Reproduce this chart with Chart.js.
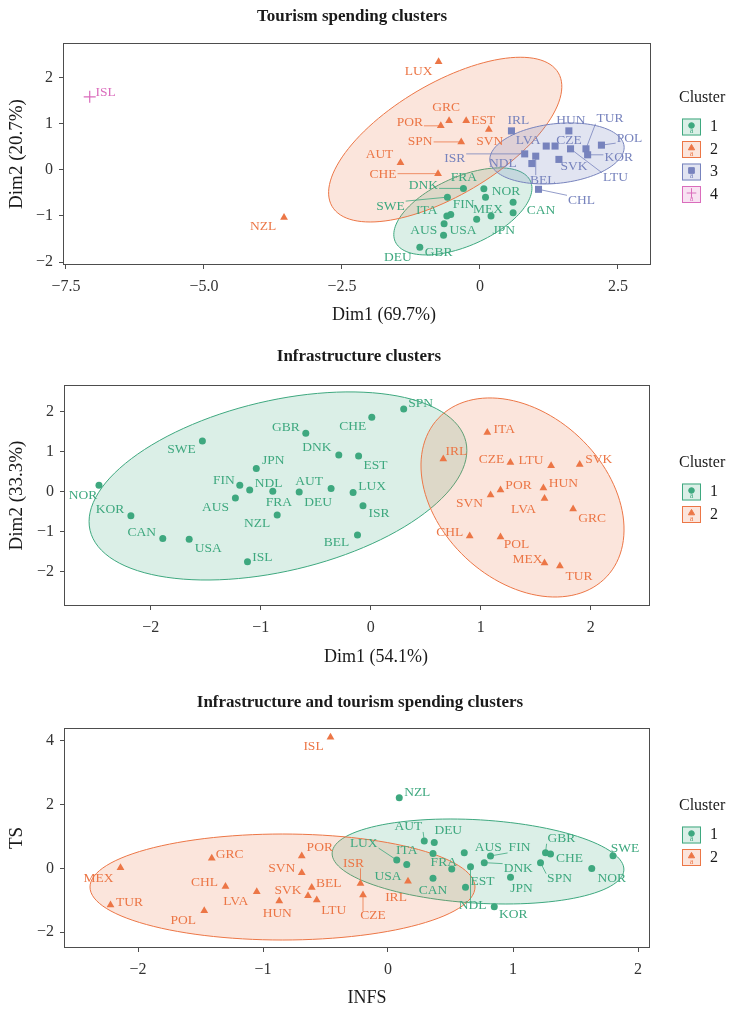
<!DOCTYPE html>
<html>
<head>
<meta charset="utf-8">
<script src="https://cdn.jsdelivr.net/npm/chart.js@4.4.1/dist/chart.umd.min.js"></script>
<style>
  html, body { margin: 0; padding: 0; background: #fff; }
  #wrap { position: relative; width: 733px; height: 1010px; overflow: hidden; }
  canvas { position: absolute; left: 0; }
</style>
</head>
<body>
<div id="wrap">
  <canvas id="ts" width="733" height="335" style="top:0px"></canvas>
  <canvas id="inf" width="733" height="340" style="top:335px"></canvas>
  <canvas id="both" width="733" height="335" style="top:675px"></canvas>
</div>
<script>
// ---- panel 1: tourism spending (PCA) ----
const tsCountries = ['ISL', 'NZL', 'LUX', 'GRC', 'POR', 'EST', 'SVN', 'SPN', 'AUT', 'CHE',
  'IRL', 'HUN', 'LVA', 'CZE', 'ISR', 'BEL', 'NDL', 'SVK', 'LTU', 'TUR', 'KOR', 'POL', 'CHL',
  'DNK', 'FRA', 'NOR', 'FIN', 'MEX', 'CAN', 'JPN', 'SWE', 'ITA', 'AUS', 'USA', 'GBR', 'DEU'];
const tsDim1 = [-7.07, -3.55, -0.75, -0.56, -0.71, -0.25, 0.16, -0.34, -1.44, -0.76,
  0.57, 1.61, 1.20, 1.36, 0.81, 1.01, 0.94, 1.43, 1.64, 1.92, 1.95, 2.20, 1.06,
  -0.30, 0.07, 0.60, 0.10, 0.20, 0.60, -0.06, -0.59, -0.53, -0.60, -0.65, -0.66, -1.09];
const tsDim2 = [1.59, -1.03, 2.35, 1.07, 0.96, 1.07, 0.88, 0.61, 0.16, -0.08,
  0.85, 0.85, 0.52, 0.52, 0.35, 0.30, 0.14, 0.23, 0.46, 0.46, 0.33, 0.54, -0.42,
  -0.40, -0.41, -0.70, -0.59, -1.00, -0.93, -1.07, -0.59, -0.97, -1.00, -1.17, -1.42, -1.68];
const tsCluster = [4, 2, 2, 2, 2, 2, 2, 2, 2, 2,
  3, 3, 3, 3, 3, 3, 3, 3, 3, 3, 3, 3, 3,
  1, 1, 1, 1, 1, 1, 1, 1, 1, 1, 1, 1, 1];
const tsXTicks = [-7.5, -5, -2.5, 0, 2.5];
const tsXTickText = ['\u22127.5', '\u22125.0', '\u22122.5', '0', '2.5'];
const tsYTicks = [-2, -1, 0, 1, 2];
// ellipse = centre, end of one semi-axis, end of the conjugate semi-axis (data units)
const tsEllipses = [
  {cluster: 1, center: [-0.31, -0.90], major: [0.915, -0.243], minor: [-0.054, -1.581]},
  {cluster: 2, center: [-0.63, 0.66], major: [1.42, 2.11], minor: [-0.12, -0.39]},
  {cluster: 3, center: [1.395, 0.359], major: [2.61, 0.52], minor: [1.455, -0.285]}
];

// ---- panel 2: infrastructure (PCA) ----
const infCountries = ['NOR', 'KOR', 'CAN', 'USA', 'SWE', 'ISL', 'FIN', 'AUS', 'JPN', 'NDL', 'FRA',
  'NZL', 'GBR', 'DNK', 'AUT', 'DEU', 'EST', 'LUX', 'ISR', 'BEL', 'CHE', 'SPN',
  'IRL', 'ITA', 'CZE', 'LTU', 'SVK', 'POR', 'SVN', 'HUN', 'LVA', 'GRC', 'CHL', 'POL', 'MEX', 'TUR'];
const infDim1 = [-2.47, -2.18, -1.89, -1.65, -1.53, -1.12, -1.19, -1.23, -1.04, -1.10, -0.89,
  -0.85, -0.59, -0.29, -0.36, -0.65, -0.11, -0.16, -0.07, -0.12, 0.01, 0.30,
  0.66, 1.06, 1.27, 1.64, 1.90, 1.18, 1.09, 1.57, 1.58, 1.84, 0.90, 1.18, 1.58, 1.72];
const infDim2 = [0.16, -0.60, -1.17, -1.19, 1.27, -1.75, 0.16, -0.16, 0.58, 0.04, 0.01,
  -0.58, 1.46, 0.92, 0.08, -0.01, 0.89, -0.02, -0.35, -1.08, 1.86, 2.07,
  0.82, 1.48, 0.73, 0.65, 0.68, 0.04, -0.08, 0.09, -0.17, -0.43, -1.11, -1.13, -1.78, -1.86];
const infCluster = [1, 1, 1, 1, 1, 1, 1, 1, 1, 1, 1, 1, 1, 1, 1, 1, 1, 1, 1, 1, 1, 1,
  2, 2, 2, 2, 2, 2, 2, 2, 2, 2, 2, 2, 2, 2];
const infXTicks = [-2, -1, 0, 1, 2];
const infYTicks = [-2, -1, 0, 1, 2];
const infEllipses = [
  {cluster: 1, center: [-0.843, 0.143], major: [0.865, 1.253], minor: [-0.666, -1.93]},
  {cluster: 2, center: [1.38, -0.145], major: [2.146, -2.123], minor: [0.865, -1.655]}
];

// ---- panel 3: infrastructure score vs tourism score ----
const bothCountries = ['ISL', 'MEX', 'TUR', 'GRC', 'CHL', 'POL', 'LVA', 'HUN', 'POR', 'SVN', 'SVK',
  'BEL', 'LTU', 'ISR', 'CZE', 'IRL',
  'NZL', 'AUT', 'DEU', 'LUX', 'ITA', 'FRA', 'CAN', 'USA', 'EST', 'NDL', 'AUS', 'FIN', 'DNK',
  'JPN', 'KOR', 'GBR', 'CHE', 'SPN', 'NOR', 'SWE'];
const bothINFS = [-0.46, -2.14, -2.22, -1.41, -1.30, -1.47, -1.05, -0.87, -0.69, -0.69, -0.64,
  -0.61, -0.57, -0.22, -0.20, 0.16,
  0.09, 0.29, 0.37, 0.07, 0.15, 0.51, 0.36, 0.36, 0.62, 0.66, 0.61, 0.82, 0.77,
  0.98, 0.85, 1.26, 1.30, 1.22, 1.63, 1.80];
const bothTS = [4.11, 0.02, -1.15, 0.32, -0.57, -1.33, -0.73, -1.02, 0.39, -0.14, -0.86,
  -0.60, -0.99, -0.47, -0.83, -0.40,
  2.21, 0.86, 0.81, 0.26, 0.12, -0.02, -0.31, 0.47, -0.59, 0.05, 0.49, 0.39, 0.18,
  -0.28, -1.20, 0.49, 0.45, 0.18, 0.00, 0.40];
const bothCluster = [2, 2, 2, 2, 2, 2, 2, 2, 2, 2, 2, 2, 2, 2, 2, 2,
  1, 1, 1, 1, 1, 1, 1, 1, 1, 1, 1, 1, 1, 1, 1, 1, 1, 1, 1, 1];
const bothXTicks = [-2, -1, 0, 1, 2];
const bothYTicks = [-2, 0, 2, 4];
const bothEllipses = [
  {cluster: 1, center: [0.72, 0.216], major: [1.887, -0.056], minor: [0.70, -1.087]},
  {cluster: 2, center: [-0.844, -0.583], major: [0.696, -0.583], minor: [-0.844, -2.243]}
];

// label placement (pixel offset from the point, 1 = draw a leader line)
const tsLabelPos = {
  ISL: [16, -4], NZL: [-21, 9], LUX: [-20, 10], GRC: [-3, -13], POR: [-31, -3, 1], EST: [17, 0],
  SVN: [1, 12], SPN: [-41, 0, 1], AUT: [-21, -8], CHE: [-55, 1, 1], IRL: [7, -10], HUN: [2, -10],
  LVA: [-18, -6], CZE: [14, -6], ISR: [-70, 5, 1], BEL: [7, 24, 1], NDL: [-29, 0], SVK: [15, 7],
  LTU: [45, 29, 1], TUR: [24, -30, 1], KOR: [31, 3, 1], POL: [28, -7, 1], CHL: [43, 11, 1],
  DNK: [-40, -3, 1], FRA: [-20, -11], NOR: [-7, -11], FIN: [-22, 7], MEX: [-3, -7], CAN: [28, -2],
  JPN: [27, 11], SWE: [-57, 9, 1], ITA: [-24, -4], AUS: [-23, 14], USA: [19, 7], GBR: [-5, 17],
  DEU: [-22, 10]
};
const infLabelPos = {
  NOR: [-16, 10], KOR: [-21, -6], CAN: [-21, -6], USA: [19, 9], SWE: [-21, 9], ISL: [15, -4],
  FIN: [-16, -5], AUS: [-20, 9], JPN: [17, -8], NDL: [19, -7], FRA: [6, 11], NZL: [-20, 9],
  GBR: [-20, -6], DNK: [-22, -7], AUT: [-22, -7], DEU: [19, 10], EST: [17, 9], LUX: [19, -6],
  ISR: [16, 8], BEL: [-21, 8], CHE: [-19, 9], SPN: [17, -5], IRL: [13, -7], ITA: [17, -3],
  CZE: [-19, -3], LTU: [-20, -5], SVK: [19, -5], POR: [18, -5], SVN: [-21, 9], HUN: [20, -5],
  LVA: [-21, 11], GRC: [19, 10], CHL: [-20, -4], POL: [16, 8], MEX: [-17, -3], TUR: [19, 10]
};
const bothLabelPos = {
  ISL: [-17, 9], MEX: [-22, 11], TUR: [19, -3], GRC: [18, -4], CHL: [-21, -4], POL: [-21, 10],
  LVA: [-21, 10], HUN: [-2, 12], POR: [18, -8], SVN: [-20, -4], SVK: [-20, -5], BEL: [17, -4],
  LTU: [17, 10], ISR: [-7, -20, 1], CZE: [10, 21, 1], IRL: [-12, 16],
  NZL: [18, -5], AUT: [-16, -14, 1], DEU: [14, -12], LUX: [-33, -17, 1], ITA: [0, -14],
  FRA: [-8, -7], CAN: [0, 12], USA: [-45, 23], EST: [17, -6], NDL: [2, 39, 1], AUS: [24, -5],
  FIN: [29, -8, 1], DNK: [34, 6, 1], JPN: [11, 11], KOR: [19, 8], GBR: [16, -14, 1], CHE: [19, 4],
  SPN: [19, 16, 1], NOR: [20, 10], SWE: [12, -7]
};

const colors = ['#3ea87f', '#ec7646', '#7783bd', '#da6cbc'];
const fills = ['rgba(62,168,127,0.19)', 'rgba(236,118,70,0.19)', 'rgba(119,131,189,0.22)', 'rgba(218,108,188,0.2)'];
const shapes = ['circle', 'triangle', 'rect', 'cross'];
const radii = [3.5, 4.5, 5, 6];
const serif = '"Liberation Serif", "DejaVu Serif", serif';
const ink = '#1a1a1a';

const fmt = v => (v < 0 ? '\u2212' + Math.abs(v) : String(v));

const decor = {
  id: 'decor',
  beforeDatasetsDraw(chart, args, o) {
    const {ctx, chartArea: a, scales: {x, y}} = chart;
    ctx.save();
    ctx.beginPath();
    ctx.rect(a.left, a.top, a.right - a.left, a.bottom - a.top);
    ctx.clip();
    o.ellipses.forEach(e => {
      const cx = x.getPixelForValue(e.center[0]), cy = y.getPixelForValue(e.center[1]);
      const ux = x.getPixelForValue(e.major[0]) - cx, uy = y.getPixelForValue(e.major[1]) - cy;
      const vx = x.getPixelForValue(e.minor[0]) - cx, vy = y.getPixelForValue(e.minor[1]) - cy;
      ctx.beginPath();
      for (let i = 0; i <= 120; i++) {
        const t = i / 120 * Math.PI * 2;
        const px = cx + ux * Math.cos(t) + vx * Math.sin(t);
        const py = cy + uy * Math.cos(t) + vy * Math.sin(t);
        if (i) ctx.lineTo(px, py); else ctx.moveTo(px, py);
      }
      ctx.closePath();
      ctx.fillStyle = fills[e.cluster - 1];
      ctx.fill();
      ctx.strokeStyle = colors[e.cluster - 1];
      ctx.lineWidth = 1;
      ctx.stroke();
    });
    ctx.restore();
  },
  afterDatasetsDraw(chart, args, o) {
    const {ctx, chartArea: a} = chart;
    ctx.save();
    ctx.font = '13.5px ' + serif;
    ctx.textAlign = 'center';
    ctx.textBaseline = 'middle';
    chart.data.datasets.forEach((ds, di) => {
      const col = colors[ds.cluster - 1];
      chart.getDatasetMeta(di).data.forEach((pt, j) => {
        const name = ds.data[j].name;
        const off = o.offsets[name] || [14, -8];
        const lx = pt.x + off[0], ly = pt.y + off[1];
        if (off[2]) {
          const w = ctx.measureText(name).width / 2 + 1, h = 5;
          const ex = Math.max(lx - w, Math.min(pt.x, lx + w));
          const ey = Math.max(ly - h, Math.min(pt.y, ly + h));
          ctx.strokeStyle = col;
          ctx.lineWidth = 0.8;
          ctx.beginPath();
          ctx.moveTo(pt.x, pt.y);
          ctx.lineTo(ex, ey);
          ctx.stroke();
        }
        ctx.fillStyle = col;
        ctx.fillText(name, lx, ly);
      });
    });

    // panel border
    ctx.strokeStyle = '#4d4d4d';
    ctx.lineWidth = 1;
    ctx.strokeRect(a.left + 0.5, a.top + 0.5, a.right - a.left - 1, a.bottom - a.top - 1);

    // titles
    ctx.fillStyle = ink;
    ctx.font = 'bold 17px ' + serif;
    ctx.fillText(o.title, o.titleX, o.titleY);
    ctx.font = '18px ' + serif;
    ctx.fillText(o.xTitle, o.xTitleX, o.xTitleY);

    // legend
    ctx.textAlign = 'left';
    ctx.font = '16px ' + serif;
    ctx.fillText('Cluster', 679, o.legendY);
    chart.data.datasets.forEach((ds, i) => {
      const k = ds.cluster;
      const cy = o.legendY + 29 + i * 22.5;
      ctx.fillStyle = fills[k - 1];
      ctx.fillRect(682, cy - 8.5, 19, 17);
      ctx.strokeStyle = colors[k - 1];
      ctx.lineWidth = 1;
      ctx.strokeRect(682.5, cy - 8, 18, 16);
      ctx.fillStyle = colors[k - 1];
      Chart.helpers.drawPoint(ctx, {pointStyle: shapes[k - 1], radius: radii[k - 1] * 0.8, rotation: 0, borderWidth: 1}, 691.5, cy - 1.5);
      ctx.font = '8px ' + serif;
      ctx.textAlign = 'center';
      ctx.fillText('a', 691.5, cy + 4);
      ctx.textAlign = 'left';
      ctx.fillStyle = ink;
      ctx.font = '16px ' + serif;
      ctx.fillText(String(k), 710, cy);
    });
    ctx.restore();
  }
};

function buildDatasets(names, xs, ys, cl) {
  const ks = [...new Set(cl)].sort();
  return ks.map(k => {
    const idx = cl.map((c, i) => (c === k ? i : -1)).filter(i => i >= 0);
    return {
      label: String(k),
      cluster: k,
      data: idx.map(i => ({x: xs[i], y: ys[i], name: names[i]})),
      pointStyle: shapes[k - 1],
      pointRadius: radii[k - 1],
      backgroundColor: colors[k - 1],
      borderColor: colors[k - 1],
      borderWidth: k === 4 ? 1.2 : 0
    };
  });
}

function makeChart(id, p) {
  const L = p.box;
  new Chart(document.getElementById(id), {
    type: 'scatter',
    data: {datasets: buildDatasets(p.names, p.xs, p.ys, p.cl)},
    options: {
      responsive: false,
      devicePixelRatio: 1,
      animation: false,
      events: [],
      layout: {padding: {left: 0, top: L.top, right: 733 - L.right, bottom: 0}},
      plugins: {
        legend: {display: false},
        tooltip: {enabled: false},
        decor: {
          ellipses: p.ellipses, offsets: p.offsets, title: p.title, xTitle: p.xTitle,
          titleX: L.titleX, titleY: L.titleY, xTitleX: L.xTitleX, xTitleY: L.xTitleY, legendY: L.legendY
        }
      },
      scales: {
        x: {
          type: 'linear', min: p.xMin, max: p.xMax,
          afterFit: s => { s.height = L.h - L.bottom; },
          afterBuildTicks: s => { s.ticks = p.xTicks.map(v => ({value: v})); },
          ticks: {
            callback: (v, i) => (p.xTickText ? p.xTickText[i] : fmt(v)),
            font: {family: serif, size: 16}, color: '#333', padding: 8, maxRotation: 0, autoSkip: false
          },
          grid: {drawOnChartArea: false, drawTicks: true, tickLength: 4, tickColor: '#4d4d4d'},
          border: {display: false}
        },
        y: {
          type: 'linear', min: p.yMin, max: p.yMax,
          afterFit: s => { s.width = L.left; },
          afterBuildTicks: s => { s.ticks = p.yTicks.map(v => ({value: v})); },
          ticks: {callback: v => fmt(v), font: {family: serif, size: 16}, color: '#333', padding: 6, autoSkip: false},
          grid: {drawOnChartArea: false, drawTicks: true, tickLength: 4, tickColor: '#4d4d4d'},
          border: {display: false},
          title: {display: true, text: p.yTitle, font: {family: serif, size: 19}, color: ink, padding: {top: 6, bottom: 0}}
        }
      }
    },
    plugins: [decor]
  });
}

makeChart('ts', {
  names: tsCountries, xs: tsDim1, ys: tsDim2, cl: tsCluster,
  ellipses: tsEllipses, offsets: tsLabelPos,
  xMin: -7.554, xMax: 3.098, yMin: -2.065, yMax: 2.76,
  xTicks: tsXTicks, xTickText: tsXTickText, yTicks: tsYTicks,
  title: 'Tourism spending clusters', xTitle: 'Dim1 (69.7%)', yTitle: 'Dim2 (20.7%)',
  box: {left: 63, top: 43, right: 651, bottom: 265, h: 335, titleX: 352, titleY: 17, xTitleX: 384, xTitleY: 315, legendY: 98}
});

makeChart('inf', {
  names: infCountries, xs: infDim1, ys: infDim2, cl: infCluster,
  ellipses: infEllipses, offsets: infLabelPos,
  xMin: -2.788, xMax: 2.539, yMin: -2.858, yMax: 2.667,
  xTicks: infXTicks, yTicks: infYTicks,
  title: 'Infrastructure clusters', xTitle: 'Dim1 (54.1%)', yTitle: 'Dim2 (33.3%)',
  box: {left: 64, top: 50, right: 650, bottom: 271, h: 340, titleX: 359, titleY: 22, xTitleX: 376, xTitleY: 322, legendY: 128}
});

makeChart('both', {
  names: bothCountries, xs: bothINFS, ys: bothTS, cl: bothCluster,
  ellipses: bothEllipses, offsets: bothLabelPos,
  xMin: -2.592, xMax: 2.096, yMin: -2.493, yMax: 4.397,
  xTicks: bothXTicks, yTicks: bothYTicks,
  title: 'Infrastructure and tourism spending clusters', xTitle: 'INFS', yTitle: 'TS',
  box: {left: 64, top: 53, right: 650, bottom: 273, h: 335, titleX: 360, titleY: 28, xTitleX: 367, xTitleY: 323, legendY: 131}
});
</script>
</body>
</html>
